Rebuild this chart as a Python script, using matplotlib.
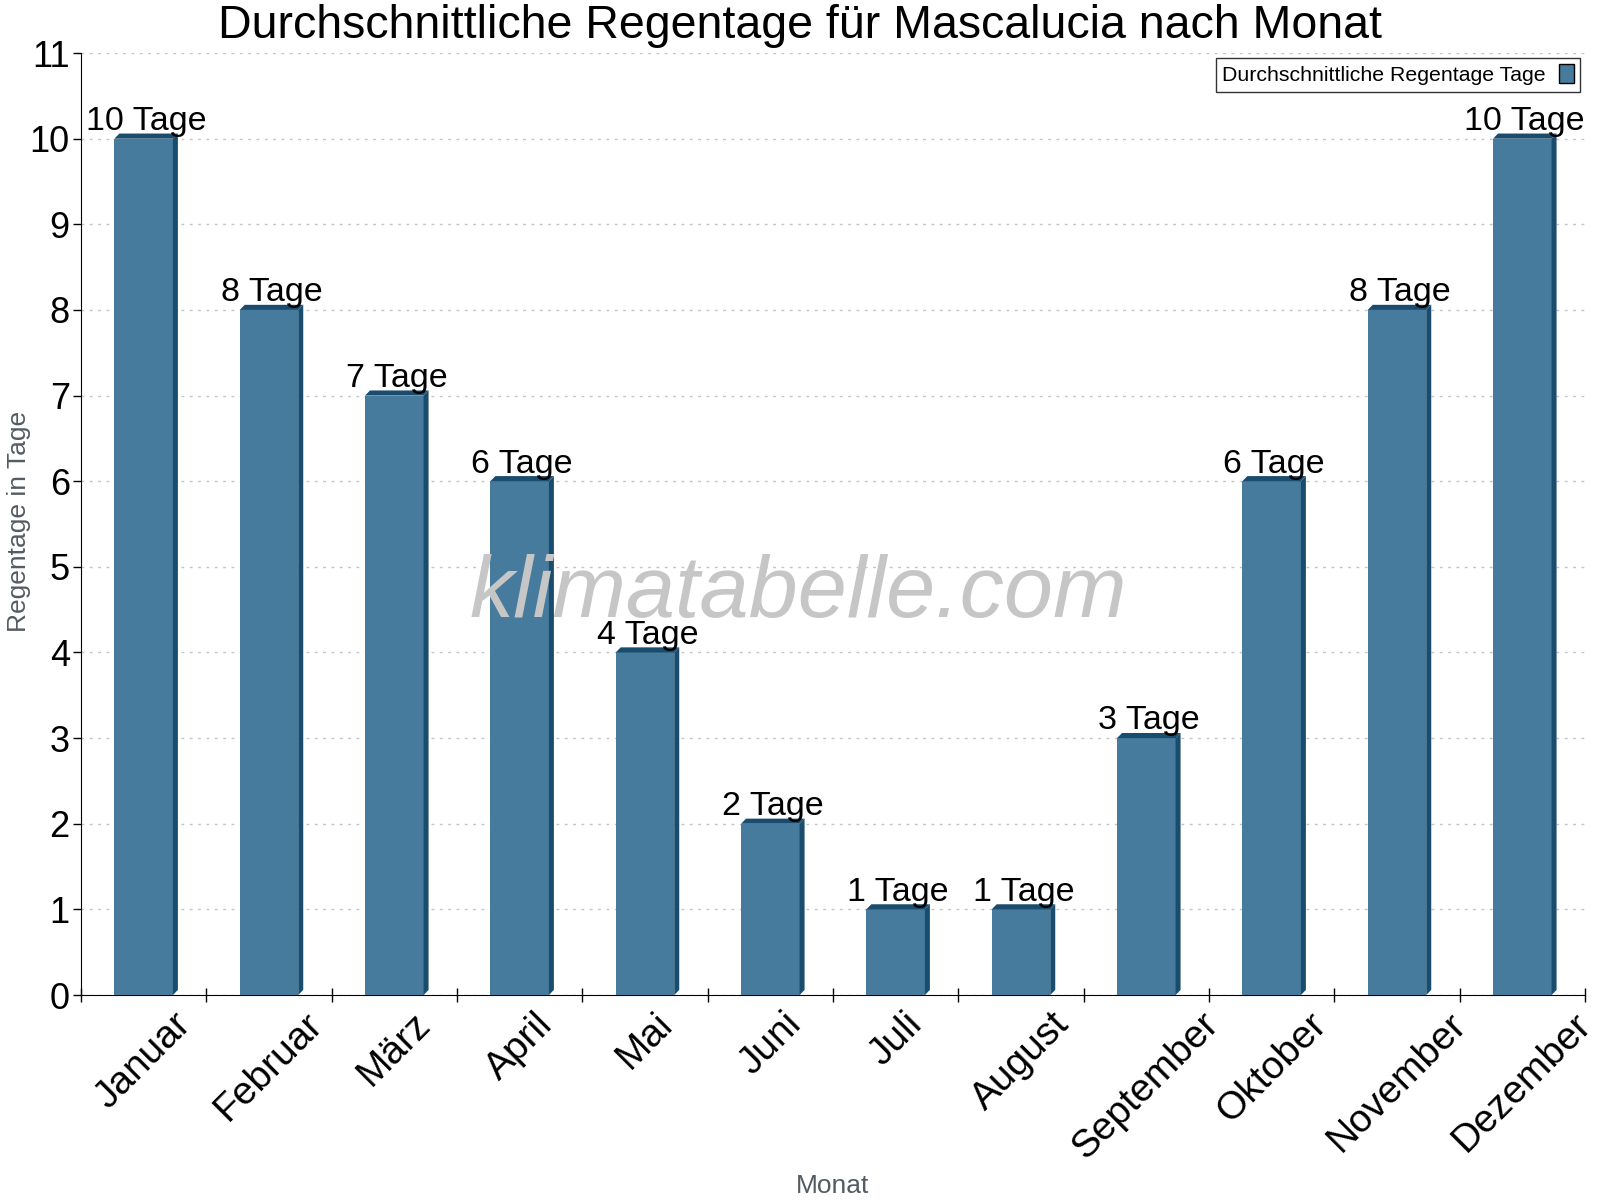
import numpy as np
import matplotlib.pyplot as plt
from matplotlib.patches import Polygon

months = ['Januar', 'Februar', 'März', 'April', 'Mai', 'Juni', 'Juli',
          'August', 'September', 'Oktober', 'November', 'Dezember']
rain_days = [10, 8, 7, 6, 4, 2, 1, 1, 3, 6, 8, 10]

plt.rcParams['font.family'] = ['Liberation Sans', 'DejaVu Sans']

fig = plt.figure(figsize=(16, 12), dpi=100)
ax = fig.add_axes([0.0506, 0.1708, 0.94, 0.785])

x = np.arange(len(months))
bar_w = 0.467
front = '#467b9d'
dark = '#1a4d6d'
bars = ax.bar(x, rain_days, width=bar_w, color=front, zorder=3,
              label='Durchschnittliche Regentage Tage')

# fake 3d side and top faces
dx, dy = 0.04, 0.06
for b in bars:
    x0, x1, h = b.get_x(), b.get_x() + b.get_width(), b.get_height()
    side = Polygon([(x1, 0), (x1 + dx, dy), (x1 + dx, h + dy), (x1, h)],
                   closed=True, color=dark, zorder=3, lw=0)
    top = Polygon([(x0, h), (x0 + dx, h + dy), (x1 + dx, h + dy), (x1, h)],
                  closed=True, color=dark, zorder=3, lw=0)
    ax.add_patch(side)
    ax.add_patch(top)
    ax.text(b.get_x() + b.get_width() / 2 + dx / 2, h + 0.02, f'{h:g} Tage',
            ha='center', va='bottom', fontsize=24.5, zorder=4)

ax.set_xlim(-0.5, len(months) - 0.5)
ax.set_ylim(0, 11)
ax.set_yticks(range(0, 12))
ax.set_xticks(x)
ax.set_xticklabels(months, rotation=45, ha='center', fontsize=28)
ax.set_xticks(np.arange(-0.5, len(months)), minor=True)
ax.tick_params(axis='x', which='major', length=0, pad=8)
ax.tick_params(axis='x', which='minor', length=10, direction='inout', width=1)
ax.tick_params(axis='y', labelsize=26, length=6, direction='out', width=1, pad=2)

ax.grid(axis='y', linestyle=(0, (2, 4)), color='#c4c4c4', lw=1, zorder=0)
ax.spines['top'].set_visible(False)
ax.spines['right'].set_visible(False)

ax.set_ylabel('Regentage in Tage', fontsize=19, color='#555b62')
ax.yaxis.set_label_coords(-0.033, 0.503)
ax.set_xlabel('Monat', fontsize=19, color='#555b62')
ax.xaxis.set_label_coords(0.5, -0.19)
fig.text(0.5, 1 - 26 / 1200, 'Durchschnittliche Regentage für Mascalucia nach Monat',
         fontsize=33.5, ha='center', va='center')

ax.text(0.477, 0.425, 'klimatabelle.com', transform=ax.transAxes,
        fontsize=63.5, style='italic', color='#c6c6c6', ha='center',
        va='center', zorder=5)

leg = ax.legend(loc='upper right', fontsize=15.3, frameon=True, fancybox=False,
                edgecolor='black', markerfirst=False, handlelength=0.7,
                handleheight=1.0, borderpad=0.3, borderaxespad=0,
                handletextpad=0.6,
                bbox_to_anchor=(1 - 5 / 1504, 1 - 5 / 942))
leg.get_frame().set_linewidth(1)
leg.legend_handles[0].set_edgecolor('black')

fig.savefig('out.png', dpi=100)
